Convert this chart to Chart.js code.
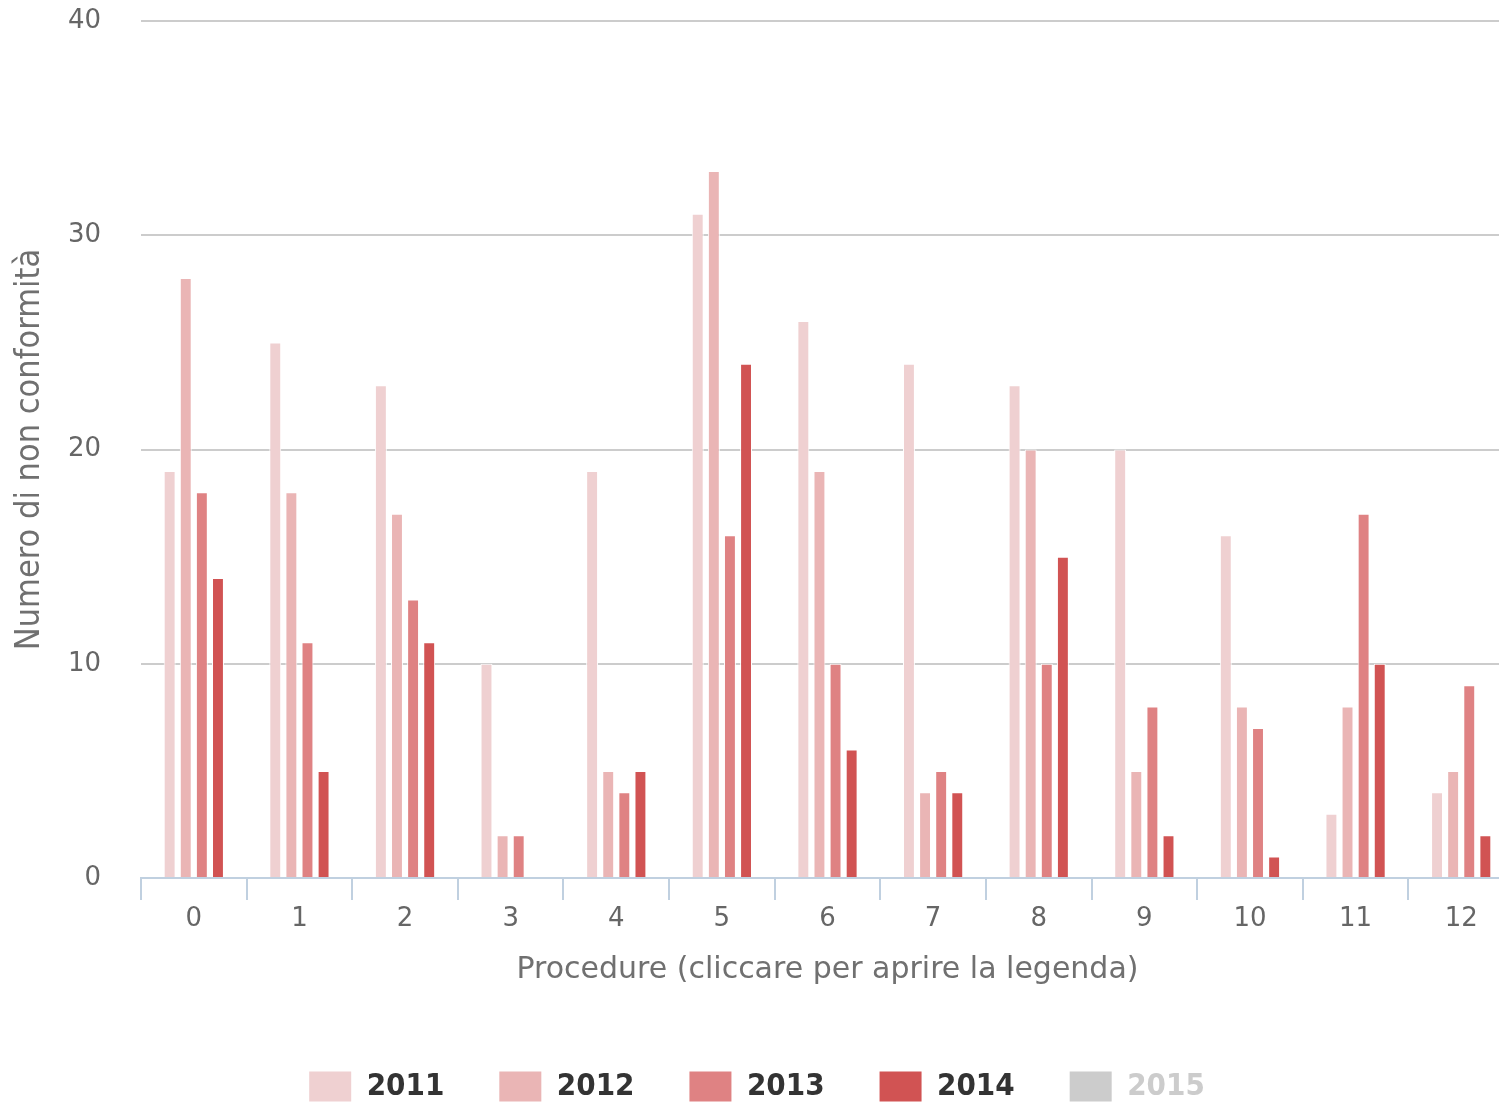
<!DOCTYPE html>
<html>
<head>
<meta charset="utf-8">
<script src="https://cdn.jsdelivr.net/npm/chart.js@4/dist/chart.umd.min.js"></script>
<style>
  html, body { margin: 0; padding: 0; background: #fff; overflow: hidden; }
  #box { width: 1518px; height: 1103px; position: relative; }
</style>
</head>
<body>
<div id="box"><canvas id="grafico"></canvas></div>
<script>
// Dati del grafico
const procedure = ['0', '1', '2', '3', '4', '5', '6', '7', '8', '9', '10', '11', '12'];
const anni = ['2011', '2012', '2013', '2014', '2015'];
const valori2011 = [19, 25, 23, 10, 19, 31, 26, 24, 23, 20, 16, 3, 4];
const valori2012 = [28, 18, 17, 2, 5, 33, 19, 4, 20, 5, 8, 8, 5];
const valori2013 = [18, 11, 13, 2, 4, 16, 10, 5, 10, 8, 7, 17, 9];
const valori2014 = [14, 5, 11, 0, 5, 24, 6, 4, 15, 2, 1, 10, 2];
const valori2015 = [];
const tickY = [0, 10, 20, 30, 40];

// Colori
const colori = ['#efd0d1', '#eab5b5', '#df8283', '#d15353', '#cccccc'];
const grigioNascosto = '#cccccc';

const serie = [valori2011, valori2012, valori2013, valori2014, valori2015];

const datasets = anni.map((anno, i) => ({
    label: anno,
    data: serie[i],
    backgroundColor: colori[i],
    borderColor: '#ffffff',
    borderWidth: 1,
    hidden: anno === '2015',
    categoryPercentage: 0.61,
    barPercentage: 0.74
}));

const fontTick = { family: '"DejaVu Sans", Verdana, sans-serif', size: 26 };

// Altezza fissa della legenda
const legendaAltezza = {
    id: 'legendaAltezza',
    beforeInit(chart) {
        const fitOrig = chart.legend.fit;
        chart.legend.fit = function () {
            fitOrig.bind(chart.legend)();
            this.height = 87;
        };
    }
};

new Chart(document.getElementById('grafico').getContext('2d'), {
    type: 'bar',
    data: { labels: procedure, datasets: datasets },
    plugins: [legendaAltezza],
    options: {
        responsive: true,
        maintainAspectRatio: false,
        animation: false,
        layout: { padding: { top: 21, left: 0, right: 4, bottom: 0 } },
        plugins: {
            legend: {
                position: 'bottom',
                labels: {
                    boxWidth: 42,
                    boxHeight: 30,
                    padding: 55,
                    color: '#333333',
                    font: { family: '"DejaVu Sans Condensed", "Liberation Sans Narrow", sans-serif', size: 31, weight: 'bold' },
                    generateLabels: (chart) => chart.data.datasets.map((ds, i) => {
                        const nascosto = !chart.isDatasetVisible(i);
                        return {
                            text: ds.label,
                            fillStyle: nascosto ? grigioNascosto : ds.backgroundColor,
                            strokeStyle: 'transparent',
                            lineWidth: 0,
                            hidden: false,
                            fontColor: nascosto ? grigioNascosto : '#333333',
                            datasetIndex: i
                        };
                    })
                }
            }
        },
        scales: {
            x: {
                grid: {
                    offset: true,
                    drawOnChartArea: false,
                    drawTicks: true,
                    tickLength: 22,
                    color: '#c0d0e0',
                    lineWidth: 2
                },
                border: { display: true, color: '#c0d0e0', width: 2 },
                ticks: { color: '#666666', font: fontTick, padding: 4 },
                title: {
                    display: true,
                    text: 'Procedure (cliccare per aprire la legenda)',
                    color: '#707070',
                    font: { family: '"DejaVu Sans", sans-serif', size: 30 },
                    padding: { top: 0, bottom: 28 }
                },
                afterFit: (scale) => { scale.height = 138; }
            },
            y: {
                min: 0,
                max: 40,
                afterBuildTicks: (scale) => { scale.ticks = tickY.map(v => ({ value: v })); },
                grid: {
                    drawTicks: false,
                    lineWidth: 2,
                    color: (ctx) => ctx.tick && ctx.tick.value === 0 ? 'rgba(0,0,0,0)' : '#cccccc'
                },
                border: { display: false },
                ticks: { color: '#666666', font: fontTick, padding: 40 },
                title: {
                    display: true,
                    text: 'Numero di non conformità',
                    color: '#707070',
                    font: { family: '"DejaVu Sans Condensed", "Liberation Sans Narrow", sans-serif', size: 34 },
                    padding: { top: 10, bottom: 0 }
                },
                afterFit: (scale) => {
                    scale.width = 141;
                    scale.paddingTop = 0;
                    scale.paddingBottom = 0;
                }
            }
        }
    }
});
</script>
</body>
</html>
